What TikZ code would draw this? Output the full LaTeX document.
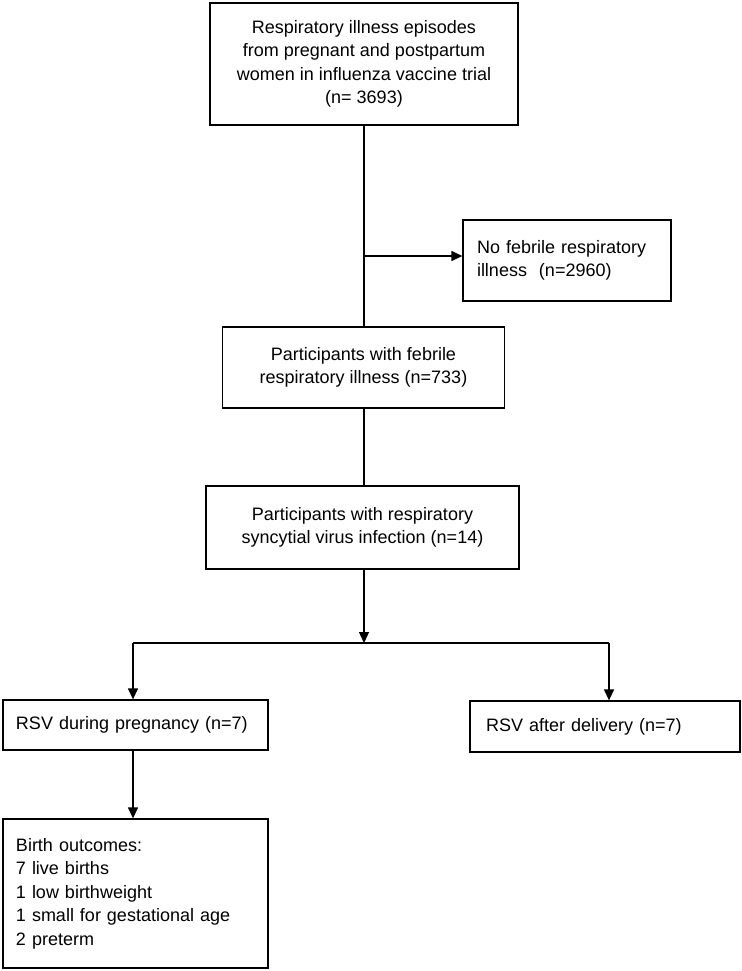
\documentclass[tikz,border=0pt]{standalone}
\usepackage{fontspec}
\setmainfont{Liberation Sans}
\usetikzlibrary{arrows.meta}
\begin{document}
\begin{tikzpicture}[x=1pt,y=-1pt,
  box/.style={draw, line width=1.3pt, inner ysep=0pt, font=\fontsize{18}{23.5}\selectfont},
  ln/.style={line width=1.3pt},
  arr/.style={ln, -{Triangle[length=11pt,width=10pt]}}]
\useasboundingbox (0,0) rectangle (741,971);
\node[box, minimum width=308pt, minimum height=122pt, align=center] (b1) at (364,64)
  {Respiratory illness episodes\\from pregnant and postpartum\\women in influenza vaccine trial\\(n= 3693)};
\node[box, text width=180pt, inner xsep=14pt, minimum height=81pt, align=left] (b2) at (567,260.5)
  {No febrile respiratory\\illness\ \ (n=2960)};
\node[box, minimum width=282pt, minimum height=81pt, align=center] (b3) at (363.5,367.5)
  {Participants with febrile\\respiratory illness (n=733)};
\node[box, minimum width=313pt, minimum height=83pt, align=center] (b4) at (362.5,527.5)
  {Participants with respiratory\\syncytial virus infection (n=14)};
\node[box, text width=239pt, inner xsep=13pt, minimum height=50pt, align=left] (b5) at (135.5,725)
  {RSV during pregnancy (n=7)};
\node[box, text width=238pt, inner xsep=16pt, minimum height=51pt, align=left] (b6) at (605,726.5)
  {RSV after delivery (n=7)};
\node[box, text width=239pt, inner xsep=13pt, minimum height=149pt, align=left] (b7) at (135.5,893.5)
  {Birth outcomes:\\7 live births\\1 low birthweight\\1 small for gestational age\\2 preterm};
\coordinate (j1) at (364,256);
\coordinate (j2) at (364,643);
\coordinate (jl) at (133,643);
\coordinate (jr) at (609,643);
\draw[ln] (b1.south -| j1) -- (b3.north -| j1);
\draw[arr] (j1) -- (j1 -| b2.west);
\draw[ln] (b3.south -| j1) -- (b4.north -| j1);
\draw[arr] (b4.south -| j1) -- (j2);
\draw[ln] (jl) -- (jr);
\draw[arr] (jl) -- (jl |- b5.north);
\draw[arr] (jr) -- (jr |- b6.north);
\draw[arr] (jl |- b5.south) -- (jl |- b7.north);
\end{tikzpicture}
\end{document}
